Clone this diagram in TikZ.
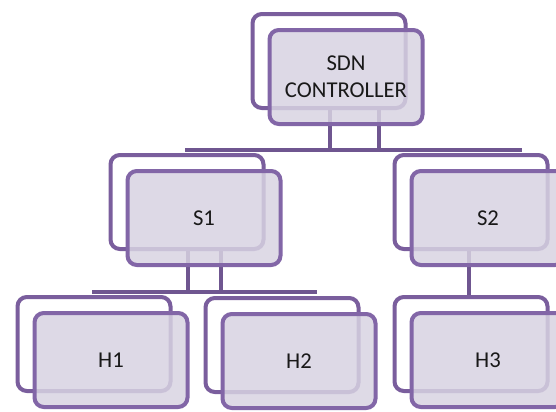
\documentclass[tikz,border=0pt]{standalone}
\usepackage{fontspec}
\setmainfont{Carlito}
\usetikzlibrary{calc}
\definecolor{backline}{HTML}{7A5E9D}
\definecolor{frontline}{HTML}{8266A7}
\definecolor{connline}{HTML}{6F5690}
\definecolor{boxfill}{HTML}{D8D3E2}
\tikzset{
  x=0.75pt, y=-0.75pt,
  backbox/.style={draw=backline, line width=3pt, rounded corners=7pt,
    fill=white, minimum width=114.75pt, minimum height=70.5pt, inner sep=0pt},
  frontbox/.style={draw=frontline, line width=3pt, rounded corners=7pt,
    fill=boxfill, fill opacity=0.85, text opacity=1,
    minimum width=114.75pt, minimum height=70.5pt, inner sep=0pt,
    align=center, text=black!90, font=\fontsize{17}{20.5}\selectfont},
  conn/.style={draw=connline, line width=3pt},
  bus/.style={draw=connline, line width=3.6pt},
}
\begin{document}
\begin{tikzpicture}
\useasboundingbox (0,0) rectangle (556,411);
\clip (0,0) rectangle (556,411);

% back layer of each box
\node[backbox] (cb)  at (329,61)  {};
\node[backbox] (s1b) at (187,202) {};
\node[backbox] (s2b) at (471,202) {};
\node[backbox] (h1b) at (94,344)  {};
\node[backbox] (h2b) at (282,345) {};
\node[backbox] (h3b) at (471,344) {};

% controller to switches
\coordinate (busAL) at (185,150);
\coordinate (busAR) at (522,150);
\coordinate (ca) at (330,150);
\coordinate (cc) at (379,150);
\draw[conn] (cb.south -| ca) -- (ca);
\draw[conn] (cb.south -| cc) -- (cc);
\draw[bus] (busAL) -- (busAR);

% switch S1 to hosts H1, H2
\coordinate (busBL) at (92,292);
\coordinate (busBR) at (317,292);
\coordinate (sa) at (188,292);
\coordinate (sc) at (221,292);
\draw[conn] (s1b.south -| sa) -- (sa);
\draw[conn] (s1b.south -| sc) -- (sc);
\draw[bus] (busBL) -- (busBR);

% switch S2 to host H3
\coordinate (sd) at (469,0);
\draw[conn] (s2b.south -| sd) -- (h3b.north -| sd);

% front layer with labels
\node[frontbox] (ctrl) at (346,77)  {SDN\\CONTROLLER};
\node[frontbox] (s1)   at (204,218) {S1};
\node[frontbox] (s2)   at (488,218) {S2};
\node[frontbox] (h1)   at (111,360) {H1};
\node[frontbox] (h2)   at (299,361) {H2};
\node[frontbox] (h3)   at (488,360) {H3};
\end{tikzpicture}
\end{document}
